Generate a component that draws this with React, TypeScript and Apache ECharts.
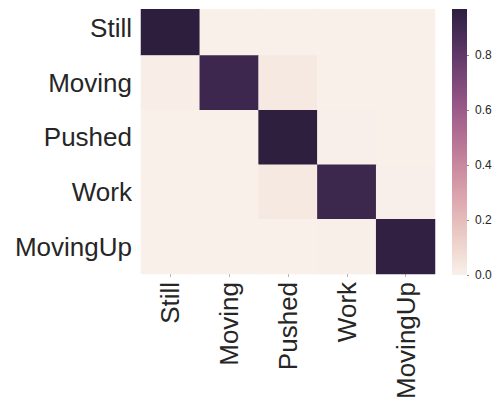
import React, { useEffect, useRef } from "react";
import * as echarts from "echarts";

const labels = ["Still", "Moving", "Pushed", "Work", "MovingUp"];
// rows = true class (top to bottom), columns = predicted class (left to right)
const matrix: number[][] = [
  [0.967, 0.002, 0.002, 0.002, 0.002],
  [0.012, 0.912, 0.03, 0.002, 0.002],
  [0.002, 0.002, 0.962, 0.003, 0.002],
  [0.002, 0.002, 0.03, 0.915, 0.003],
  [0.002, 0.002, 0.002, 0.006, 0.955],
];
const VMIN = 0;
const VMAX = 0.967;
const cbarTicks = [0, 0.2, 0.4, 0.6, 0.8];

// seaborn cubehelix_palette(light=.95, dark=.15) colour ramp
function cubehelix(l: number): string {
  const start = 0, rot = 0.4, hue = 0.8, gamma = 1;
  const xg = Math.pow(l, gamma);
  const a = (hue * xg * (1 - xg)) / 2;
  const phi = 2 * Math.PI * (start / 3 + rot * l);
  const c = Math.cos(phi), s = Math.sin(phi);
  const r = xg + a * (-0.14861 * c + 1.78277 * s);
  const g = xg + a * (-0.29227 * c - 0.90649 * s);
  const b = xg + a * (1.97294 * c);
  const f = (v: number) => Math.round(Math.max(0, Math.min(1, v)) * 255);
  return `rgb(${f(r)},${f(g)},${f(b)})`;
}
const N = 32;
const ramp: string[] = [];
for (let i = 0; i <= N; i++) ramp.push(cubehelix(0.95 - (0.8 * i) / N));

export default function App() {
  const ref = useRef<HTMLDivElement>(null);
  useEffect(() => {
    document.body.style.margin = "0";
    if (!ref.current) return;
    const chart = echarts.init(ref.current, undefined, { renderer: "svg" });
    const data: [number, number, number][] = [];
    matrix.forEach((row, r) =>
      row.forEach((v, c) => data.push([c, r, v]))
    );
    const font = "'Liberation Sans', Arial, sans-serif";
    chart.setOption({
      animation: false,
      backgroundColor: "#ffffff",
      textStyle: { fontFamily: font },
      grid: [
        { left: 141, top: 1, width: 294, height: 274 },
        { left: 452, top: 9, width: 15, height: 266 },
      ],
      xAxis: [
        {
          type: "category",
          gridIndex: 0,
          data: labels,
          position: "bottom",
          axisLine: { show: false },
          axisTick: { show: true, length: 3, alignWithLabel: true, lineStyle: { color: "#b0b0b0" } },
          axisLabel: { rotate: 90, fontSize: 26, color: "#262626", margin: 8, fontFamily: font },
          splitLine: { show: false },
        },
        {
          type: "category",
          gridIndex: 1,
          data: [""],
          show: false,
        },
      ],
      yAxis: [
        {
          type: "category",
          gridIndex: 0,
          data: labels,
          inverse: true,
          axisLine: { show: false },
          axisTick: { show: false },
          axisLabel: {
            fontSize: 26,
            color: "#262626",
            margin: 9,
            fontFamily: font,
            padding: [0, 0, 3, 0],
          },
          splitLine: { show: false },
        },
        {
          type: "value",
          gridIndex: 1,
          position: "right",
          min: VMIN,
          max: VMAX,
          axisLine: { show: false },
          splitLine: { show: false },
          axisTick: {
            show: true,
            length: 2,
            customValues: cbarTicks,
            lineStyle: { color: "#888" },
          },
          axisLabel: {
            customValues: cbarTicks,
            formatter: (v: number) => v.toFixed(1),
            fontSize: 12,
            color: "#262626",
            margin: 8,
            fontFamily: font,
          },
        },
      ],
      visualMap: {
        show: false,
        type: "continuous",
        min: VMIN,
        max: VMAX,
        seriesIndex: 0,
        dimension: 2,
        inRange: { color: ramp },
      },
      series: [
        {
          type: "heatmap",
          xAxisIndex: 0,
          yAxisIndex: 0,
          data,
          itemStyle: { borderWidth: 0 },
          emphasis: { disabled: true },
        },
        {
          type: "bar",
          xAxisIndex: 1,
          yAxisIndex: 1,
          data: [VMAX],
          barWidth: "100%",
          itemStyle: {
            color: new echarts.graphic.LinearGradient(
              0,
              0,
              0,
              1,
              ramp
                .slice()
                .reverse()
                .map((c, i) => ({ offset: i / N, color: c }))
            ),
          },
          silent: true,
        },
      ],
      graphic: [
        {
          type: "rect",
          z: 100,
          shape: { x: 130, y: 0, width: 320, height: 9 },
          style: { fill: "#ffffff" },
          silent: true,
        },
      ],
    });
    return () => chart.dispose();
  }, []);
  return <div ref={ref} style={{ width: 501, height: 402 }} />;
}
